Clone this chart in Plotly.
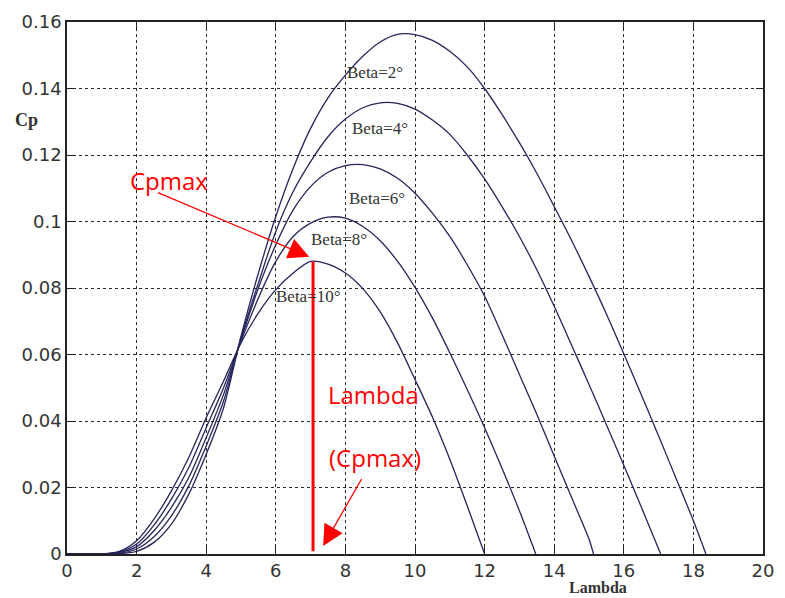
import plotly.graph_objects as go

# ---- data ----
lam = [0, 0.5, 1, 1.5, 2, 2.5, 3, 3.5, 4, 4.5, 5, 5.5, 6, 6.5, 7, 7.5, 8, 8.5, 9, 9.5,
       10, 10.5, 11, 11.5, 12, 12.5, 13, 13.5, 14, 14.5, 15, 15.5, 16, 16.5, 17, 17.5, 18]

cp_beta2 = [0, 0, 0, 0.0001, 0.0008, 0.0035, 0.009, 0.018, 0.030, 0.044, 0.0655, 0.0845, 0.1015,
            0.1160, 0.1280, 0.1372, 0.1440, 0.1497, 0.1540, 0.1563, 0.1562, 0.1545, 0.1512,
            0.1465, 0.140, 0.1322, 0.1237, 0.1145, 0.1045, 0.0943, 0.0835, 0.0722, 0.0602,
            0.0480, 0.0355, 0.0228, 0.0100]
lam_beta2_end = 18.36

cp_beta4 = [0, 0, 0, 0.0002, 0.0015, 0.0052, 0.0115, 0.0205, 0.0325, 0.046, 0.065, 0.0815,
            0.097, 0.109, 0.118, 0.1255, 0.1308, 0.1342, 0.1357, 0.1355, 0.1338, 0.1305, 0.1262,
            0.1200, 0.1128, 0.1045, 0.0955, 0.0855, 0.0745, 0.0628, 0.0510, 0.0389, 0.0267,
            0.0142]
lam_beta4_end = 17.06

cp_beta6 = [0, 0, 0, 0.0004, 0.0022, 0.007, 0.014, 0.023, 0.035, 0.048, 0.0645, 0.080, 0.093,
            0.1035, 0.1105, 0.1148, 0.1168, 0.1171, 0.1158, 0.1130, 0.1085, 0.1025, 0.0955,
            0.0870, 0.0775, 0.0660, 0.0540, 0.0420, 0.0295, 0.0170, 0.0045]
lam_beta6_end = 15.13

cp_beta8 = [0, 0, 0, 0.0006, 0.003, 0.0087, 0.0165, 0.026, 0.038, 0.050, 0.064, 0.077, 0.088,
            0.0955, 0.0995, 0.1013, 0.1010, 0.0985, 0.0942, 0.0880, 0.0802, 0.0710, 0.0605,
            0.0495, 0.0380, 0.0258, 0.0130]
lam_beta8_end = 13.47

cp_beta10 = [0, 0, 0, 0.0008, 0.004, 0.0105, 0.019, 0.029, 0.041, 0.052, 0.0635, 0.0725, 0.0795,
             0.0845, 0.0880, 0.0872, 0.0845, 0.0798, 0.0728, 0.0635, 0.0525, 0.0412, 0.0285,
             0.0145]
lam_beta10_end = 12.0

series = [("Beta=2°", cp_beta2, lam_beta2_end),
          ("Beta=4°", cp_beta4, lam_beta4_end),
          ("Beta=6°", cp_beta6, lam_beta6_end),
          ("Beta=8°", cp_beta8, lam_beta8_end),
          ("Beta=10°", cp_beta10, lam_beta10_end)]

# label positions (lambda of left edge, Cp of centre)
label_lam = [8.0, 8.12, 8.06, 6.96, 5.95]
label_cp = [0.1447, 0.128, 0.1068, 0.0945, 0.0775]

lam_cpmax = 7.07
cp_max = 0.088

x_ticks = [0, 2, 4, 6, 8, 10, 12, 14, 16, 18, 20]
y_ticks = [0, 0.02, 0.04, 0.06, 0.08, 0.1, 0.12, 0.14, 0.16]
y_ticktext = ["0", "0.02", "0.04", "0.06", "0.08", "0.1", "0.12", "0.14", "0.16"]

curve_color = "#25255c"
red = "#ff0000"

fig = go.Figure()
for name, cp, lend in series:
    xs = lam[:len(cp)] + [lend]
    ys = cp + [0]
    fig.add_trace(go.Scatter(x=xs, y=ys, mode="lines", name=name,
                             line=dict(color=curve_color, width=1.3, shape="spline", smoothing=0.8),
                             showlegend=False, hoverinfo="skip"))

# red vertical line at lambda(Cpmax)
fig.add_trace(go.Scatter(x=[lam_cpmax, lam_cpmax], y=[0.0008, cp_max], mode="lines",
                         line=dict(color=red, width=3), showlegend=False, hoverinfo="skip"))

annotations = []
for (name, _, _), lx, ly in zip(series, label_lam, label_cp):
    annotations.append(dict(x=lx, y=ly, text=name, showarrow=False, xanchor="left",
                            yanchor="middle", font=dict(family="Liberation Serif", size=17,
                                                        color="#333333")))

# red annotations
annotations += [
    dict(x=2.94, y=0.1124, text="Cpmax", showarrow=False,
         font=dict(family="Open Sans", size=24, color=red)),
    dict(x=6.96, y=0.0894, ax=2.57, ay=0.1089, axref="x", ayref="y", xref="x", yref="y",
         text="", showarrow=True, arrowhead=2, arrowsize=3.2, arrowwidth=1.3, arrowcolor=red),
    dict(x=8.8, y=0.0479, text="Lambda", showarrow=False,
         font=dict(family="Open Sans", size=24, color=red)),
    dict(x=8.85, y=0.029, text="(Cpmax)", showarrow=False,
         font=dict(family="Open Sans", size=24, color=red)),
    dict(x=7.36, y=0.0024, ax=8.49, ay=0.023, axref="x", ayref="y", xref="x", yref="y",
         text="", showarrow=True, arrowhead=2, arrowsize=3.2, arrowwidth=1.3, arrowcolor=red),
    # axis titles
    dict(x=-0.078, y=0.815, text="<b>Cp</b>", showarrow=False, xref="paper", yref="paper",
         xanchor="left", yanchor="middle",
         font=dict(family="Liberation Serif", size=18, color="#333333")),
    dict(x=0.72, y=-0.0805, text="<b>Lambda</b>", showarrow=False, xref="paper", yref="paper",
         xanchor="left", yanchor="bottom", borderpad=0,
         font=dict(family="Liberation Serif", size=16, color="#333333")),
]

axis_common = dict(showline=True, linecolor="#222222", linewidth=1.6, mirror="ticks",
                   ticks="inside", ticklen=7, tickcolor="#222222", tickwidth=1.3,
                   showgrid=True, gridcolor="#2a2a2a", gridwidth=1.3, griddash="3px,3px",
                   zeroline=False,
                   tickfont=dict(family="DejaVu Sans", size=18, color="#333333"))

fig.update_xaxes(range=[0, 20], tickvals=x_ticks, **axis_common)
fig.update_yaxes(range=[0, 0.16], tickvals=y_ticks, ticktext=y_ticktext, **axis_common)

fig.update_layout(width=785, height=598, margin=dict(l=67, r=11, t=19, b=44),
                  plot_bgcolor="white", paper_bgcolor="white", annotations=annotations)

fig.write_html("out.html")
